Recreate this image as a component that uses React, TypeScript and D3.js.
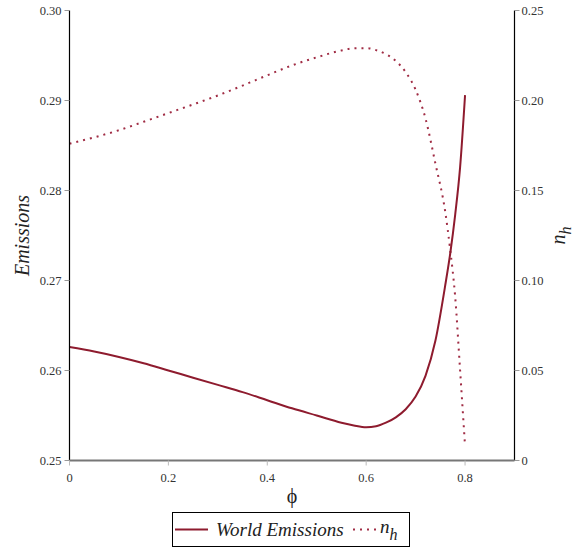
import { useRef, useEffect } from 'react';
import * as d3 from 'd3';

const W = 584;
const H = 552;
const MARGIN = { top: 10.5, right: 69.5, bottom: 91.5, left: 69.5 };

// phi values shared by both curves
const phi = [0, 0.05, 0.1, 0.15, 0.2, 0.25, 0.3, 0.35, 0.4, 0.45, 0.5, 0.55, 0.575, 0.6,
  0.62, 0.64, 0.66, 0.68, 0.7, 0.72, 0.74, 0.76, 0.77, 0.78, 0.79, 0.8];

// World Emissions (left axis)
const emissions = [0.2626, 0.2621, 0.2615, 0.2608, 0.2600, 0.2592, 0.2584, 0.2576, 0.2567,
  0.2558, 0.2550, 0.2542, 0.2539, 0.2537, 0.2538, 0.2542, 0.2548, 0.2557, 0.2571, 0.2594,
  0.2633, 0.2695, 0.2730, 0.2773, 0.2826, 0.2906];

// n_h (right axis)
const nh = [0.1760, 0.1795, 0.1835, 0.1882, 0.1930, 0.1978, 0.2028, 0.2083, 0.2140, 0.2195,
  0.2240, 0.2278, 0.2290, 0.2291, 0.2280, 0.2258, 0.2220, 0.2157, 0.2060, 0.1900, 0.1650,
  0.1380, 0.1170, 0.0910, 0.0500, 0.0080];

const xTicks = [0, 0.2, 0.4, 0.6, 0.8];
const xTickLabels = ['0', '0.2', '0.4', '0.6', '0.8'];
const leftTicks = [0.25, 0.26, 0.27, 0.28, 0.29, 0.30];
const rightTicks = [0, 0.05, 0.1, 0.15, 0.2, 0.25];
const rightTickLabels = ['0', '0.05', '0.10', '0.15', '0.20', '0.25'];

const RED = '#8e1b2e';
const DOT = '#a02c44';
const FONT = 'Liberation Serif';

export default function App() {
  const svgRef = useRef<SVGSVGElement | null>(null);

  useEffect(() => {
    const svg = d3.select(svgRef.current);
    svg.selectAll('*').remove();

    const x0 = MARGIN.left, x1 = W - MARGIN.right;
    const y0 = H - MARGIN.bottom, y1 = MARGIN.top;

    const x = d3.scaleLinear().domain([0, 0.9]).range([x0, x1]);
    const yL = d3.scaleLinear().domain([0.25, 0.30]).range([y0, y1]);
    const yR = d3.scaleLinear().domain([0, 0.25]).range([y0, y1]);

    const g = svg.append('g');
    const txt = (sel: any) => sel.append('text').style('font-family', FONT);

    // curves
    const lineL = d3.line<number>().x((_, i) => x(phi[i])).y(d => yL(d)).curve(d3.curveMonotoneX);
    const lineR = d3.line<number>().x((_, i) => x(phi[i])).y(d => yR(d)).curve(d3.curveMonotoneX);

    g.append('path').attr('d', lineR(nh)).attr('fill', 'none')
      .attr('stroke', DOT).attr('stroke-width', 2).attr('stroke-dasharray', '2,5');
    g.append('path').attr('d', lineL(emissions)).attr('fill', 'none')
      .attr('stroke', RED).attr('stroke-width', 2);

    // left axis
    g.append('line').attr('x1', x0).attr('x2', x0).attr('y1', y1).attr('y2', y0)
      .attr('stroke', '#000').attr('stroke-width', 1.2);
    leftTicks.forEach(t => {
      g.append('line').attr('x1', x0 - 5).attr('x2', x0).attr('y1', yL(t)).attr('y2', yL(t))
        .attr('stroke', '#999');
      txt(g).attr('x', x0 - 8).attr('y', yL(t)).attr('dy', '0.35em')
        .attr('text-anchor', 'end').attr('font-size', 12.5).attr('fill', '#333')
        .text(t.toFixed(2));
    });

    // right axis
    g.append('line').attr('x1', x1).attr('x2', x1).attr('y1', y1).attr('y2', y0)
      .attr('stroke', '#000').attr('stroke-width', 1.2);
    rightTicks.forEach((t, i) => {
      g.append('line').attr('x1', x1).attr('x2', x1 + 5).attr('y1', yR(t)).attr('y2', yR(t))
        .attr('stroke', '#999');
      txt(g).attr('x', x1 + 7).attr('y', yR(t)).attr('dy', '0.35em')
        .attr('text-anchor', 'start').attr('font-size', 12.5).attr('fill', '#333')
        .text(rightTickLabels[i]);
    });

    // bottom axis
    g.append('line').attr('x1', x0).attr('x2', x1).attr('y1', y0).attr('y2', y0)
      .attr('stroke', '#777').attr('stroke-width', 2);
    xTicks.forEach((t, i) => {
      g.append('line').attr('x1', x(t)).attr('x2', x(t)).attr('y1', y0).attr('y2', y0 + 5)
        .attr('stroke', '#bbb');
      txt(g).attr('x', x(t)).attr('y', y0 + 21)
        .attr('text-anchor', 'middle').attr('font-size', 12.5).attr('fill', '#333')
        .text(xTickLabels[i]);
    });

    // axis titles
    txt(g).attr('transform', `translate(${x0 + (x1 - x0) / 2},${y0 + 42})`)
      .attr('text-anchor', 'middle').attr('font-size', 20).attr('fill', '#222').text('ϕ');
    txt(g).attr('transform', `translate(29,${(y0 + y1) / 2}) rotate(-90)`)
      .attr('text-anchor', 'middle').attr('font-size', 20).attr('font-style', 'italic')
      .attr('fill', '#222').text('Emissions');
    const nt = txt(g).attr('transform', `translate(565,${(y0 + y1) / 2}) rotate(-90)`)
      .attr('text-anchor', 'middle').attr('font-size', 20).attr('font-style', 'italic')
      .attr('fill', '#222');
    nt.append('tspan').text('n');
    nt.append('tspan').attr('dy', 6).attr('font-size', 16).text('h');

    // legend
    const lg = g.append('g');
    lg.append('rect').attr('x', 172.5).attr('y', 512.5).attr('width', 237).attr('height', 34)
      .attr('fill', '#fff').attr('stroke', '#000');
    lg.append('line').attr('x1', 175).attr('x2', 208).attr('y1', 529.5).attr('y2', 529.5)
      .attr('stroke', RED).attr('stroke-width', 2);
    txt(lg).attr('x', 216).attr('y', 535.5).attr('font-size', 19)
      .attr('font-style', 'italic').attr('fill', '#222').text('World Emissions');
    lg.append('line').attr('x1', 353).attr('x2', 376).attr('y1', 529.5).attr('y2', 529.5)
      .attr('stroke', DOT).attr('stroke-width', 2).attr('stroke-dasharray', '2,5');
    const ln = txt(lg).attr('x', 380).attr('y', 533).attr('font-size', 19)
      .attr('font-style', 'italic').attr('fill', '#222');
    ln.append('tspan').text('n');
    ln.append('tspan').attr('dy', 7).attr('font-size', 16).text('h');
  }, []);

  return (
    <div style={{ position: 'absolute', left: 0, top: 0 }}>
      <svg ref={svgRef} width={W} height={H} style={{ display: 'block', background: '#fff' }} />
    </div>
  );
}
